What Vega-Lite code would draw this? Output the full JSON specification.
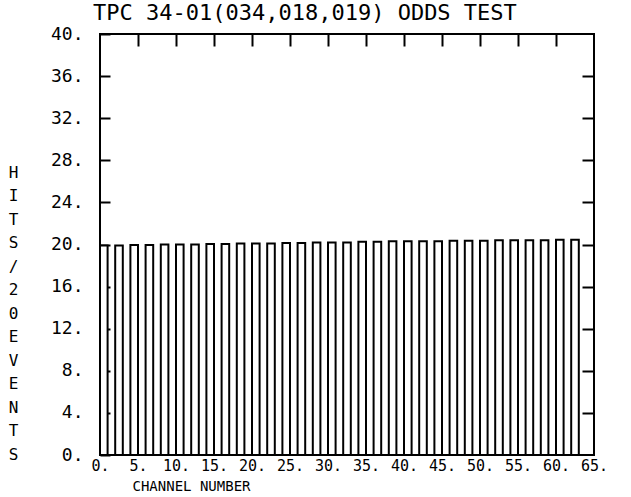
{
  "$schema": "https://vega.github.io/schema/vega-lite/v6.json",
  "autosize": "none",
  "width": 494,
  "height": 421,
  "padding": {"left": 100, "top": 34, "right": 37, "bottom": 42},
  "background": "white",
  "view": {"stroke": "black", "strokeWidth": 2},
  "title": {
    "text": "TPC 34-01(034,018,019) ODDS TEST",
    "anchor": "start",
    "frame": "group",
    "dx": -7,
    "offset": 0,
    "font": "DejaVu Sans Mono",
    "fontSize": 22,
    "fontWeight": "normal",
    "color": "black"
  },
  "data": {
    "values": [
      {"channel_lo": 0, "channel_hi": 1, "hits": 19.9},
      {"channel_lo": 2, "channel_hi": 3, "hits": 19.9},
      {"channel_lo": 4, "channel_hi": 5, "hits": 19.95},
      {"channel_lo": 6, "channel_hi": 7, "hits": 19.95},
      {"channel_lo": 8, "channel_hi": 9, "hits": 20.0},
      {"channel_lo": 10, "channel_hi": 11, "hits": 20.0},
      {"channel_lo": 12, "channel_hi": 13, "hits": 20.0},
      {"channel_lo": 14, "channel_hi": 15, "hits": 20.05},
      {"channel_lo": 16, "channel_hi": 17, "hits": 20.05},
      {"channel_lo": 18, "channel_hi": 19, "hits": 20.1},
      {"channel_lo": 20, "channel_hi": 21, "hits": 20.1},
      {"channel_lo": 22, "channel_hi": 23, "hits": 20.1},
      {"channel_lo": 24, "channel_hi": 25, "hits": 20.15},
      {"channel_lo": 26, "channel_hi": 27, "hits": 20.15},
      {"channel_lo": 28, "channel_hi": 29, "hits": 20.2},
      {"channel_lo": 30, "channel_hi": 31, "hits": 20.2},
      {"channel_lo": 32, "channel_hi": 33, "hits": 20.2},
      {"channel_lo": 34, "channel_hi": 35, "hits": 20.25},
      {"channel_lo": 36, "channel_hi": 37, "hits": 20.25},
      {"channel_lo": 38, "channel_hi": 39, "hits": 20.3},
      {"channel_lo": 40, "channel_hi": 41, "hits": 20.3},
      {"channel_lo": 42, "channel_hi": 43, "hits": 20.3},
      {"channel_lo": 44, "channel_hi": 45, "hits": 20.3},
      {"channel_lo": 46, "channel_hi": 47, "hits": 20.35},
      {"channel_lo": 48, "channel_hi": 49, "hits": 20.35},
      {"channel_lo": 50, "channel_hi": 51, "hits": 20.35},
      {"channel_lo": 52, "channel_hi": 53, "hits": 20.4},
      {"channel_lo": 54, "channel_hi": 55, "hits": 20.4},
      {"channel_lo": 56, "channel_hi": 57, "hits": 20.4},
      {"channel_lo": 58, "channel_hi": 59, "hits": 20.4},
      {"channel_lo": 60, "channel_hi": 61, "hits": 20.45},
      {"channel_lo": 62, "channel_hi": 63, "hits": 20.45}
    ]
  },
  "layer": [
    {
      "mark": {"type": "bar", "fill": "white", "stroke": "black", "strokeWidth": 2},
      "encoding": {
        "x": {
          "field": "channel_lo",
          "type": "quantitative",
          "scale": {"domain": [0, 65], "nice": false, "zero": false},
          "axis": {
            "orient": "bottom",
            "values": [0, 5, 10, 15, 20, 25, 30, 35, 40, 45, 50, 55, 60, 65],
            "labelExpr": "datum.value + '.'",
            "ticks": false,
            "domain": false,
            "grid": false,
            "labelFont": "DejaVu Sans Mono",
            "labelFontSize": 15,
            "labelColor": "black",
            "labelPadding": 3,
            "labelFlush": false,
            "labelOverlap": false,
            "title": "CHANNEL NUMBER",
            "titleFont": "DejaVu Sans Mono",
            "titleFontSize": 14,
            "titleFontWeight": "normal",
            "titleColor": "black",
            "titleAlign": "left",
            "titleAnchor": "start",
            "titleBaseline": "middle",
            "titleX": 32,
            "titleY": 31
          }
        },
        "x2": {"field": "channel_hi"},
        "y": {
          "field": "hits",
          "type": "quantitative",
          "scale": {"domain": [0, 40], "nice": false},
          "axis": {
            "orient": "left",
            "values": [0, 4, 8, 12, 16, 20, 24, 28, 32, 36, 40],
            "labelExpr": "datum.value + '.'",
            "tickSize": -10,
            "tickWidth": 2,
            "tickColor": "black",
            "domain": false,
            "grid": false,
            "labelFont": "DejaVu Sans Mono",
            "labelFontSize": 18,
            "labelColor": "black",
            "labelPadding": 27,
            "labelFlush": false,
            "labelOverlap": false,
            "title": ["H", "I", "T", "S", "/", "2", "0", "E", "V", "E", "N", "T", "S"],
            "titleAngle": 0,
            "titleFont": "DejaVu Sans Mono",
            "titleFontSize": 16,
            "titleFontWeight": "normal",
            "titleColor": "black",
            "titleAlign": "center",
            "titleBaseline": "top",
            "titleLineHeight": 23.5,
            "titleX": -87,
            "titleY": 130
          }
        },
        "y2": {"datum": 0}
      }
    },
    {
      "mark": {"type": "rule", "opacity": 0},
      "encoding": {
        "x": {
          "datum": 0,
          "type": "quantitative",
          "axis": {
            "orient": "top",
            "values": [5, 10, 15, 20, 25, 30, 35, 40, 45, 50, 55, 60],
            "labels": false,
            "tickSize": -12,
            "tickWidth": 2,
            "tickColor": "black",
            "domain": false,
            "grid": false,
            "title": null
          }
        },
        "y": {
          "datum": 0,
          "type": "quantitative",
          "axis": {
            "orient": "right",
            "values": [4, 8, 12, 16, 20, 24, 28, 32, 36],
            "labels": false,
            "tickSize": -12,
            "tickWidth": 2,
            "tickColor": "black",
            "domain": false,
            "grid": false,
            "title": null
          }
        }
      }
    }
  ],
  "resolve": {"axis": {"x": "independent", "y": "independent"}}
}
